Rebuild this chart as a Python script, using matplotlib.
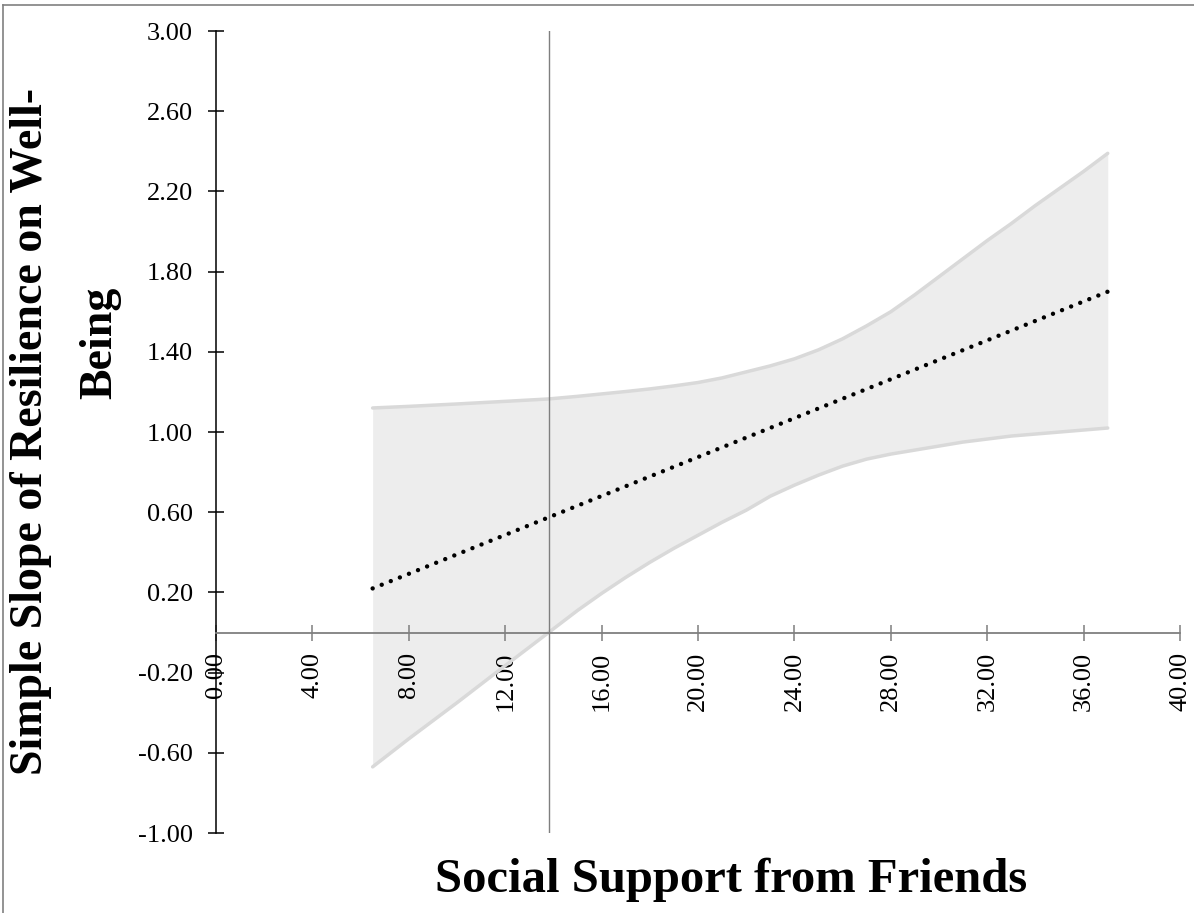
import matplotlib
matplotlib.use("Agg")
import matplotlib.pyplot as plt
from matplotlib.lines import Line2D

# Moderator values (social support from friends) and confidence band of the simple slope
band_x = [6.5, 8, 10, 12, 13.8, 15, 16, 17, 18, 19, 20, 21, 22, 23, 24, 25, 26,
          27, 28, 29, 30, 31, 32, 33, 34, 35, 36, 37]
band_upper = [1.12, 1.128, 1.14, 1.153, 1.165, 1.178, 1.19, 1.202, 1.215, 1.23,
              1.247, 1.27, 1.30, 1.33, 1.365, 1.41, 1.465, 1.53, 1.60, 1.685,
              1.775, 1.865, 1.955, 2.04, 2.13, 2.215, 2.30, 2.39]
band_lower = [-0.67, -0.53, -0.35, -0.165, 0.0, 0.11, 0.195, 0.275, 0.35, 0.42,
              0.485, 0.55, 0.61, 0.68, 0.735, 0.785, 0.83, 0.865, 0.89, 0.91,
              0.93, 0.95, 0.965, 0.98, 0.99, 1.00, 1.01, 1.02]

# Simple slope estimate across the moderator range
slope_x = [6.5, 37.0]
slope_y = [0.22, 1.70]

# Region-of-significance boundary
boundary_x = 13.8

x_ticks = [0, 4, 8, 12, 16, 20, 24, 28, 32, 36, 40]
x_tick_labels = ["0.00", "4.00", "8.00", "12.00", "16.00", "20.00",
                 "24.00", "28.00", "32.00", "36.00", "40.00"]
y_ticks = [-1.0, -0.6, -0.2, 0.2, 0.6, 1.0, 1.4, 1.8, 2.2, 2.6, 3.0]
y_tick_labels = ["-1.00", "-0.60", "-0.20", "0.20", "0.60", "1.00",
                 "1.40", "1.80", "2.20", "2.60", "3.00"]

plt.rcParams["font.family"] = ["Liberation Serif", "DejaVu Serif"]

fig = plt.figure(figsize=(11.94, 9.13), dpi=100)
ax = fig.add_axes([0.1809, 0.0876, 0.8074, 0.8784])
ax.set_xlim(0, 40)
ax.set_ylim(-1, 3)

band_edge = "#d9d9d9"
ax.fill_between(band_x, band_lower, band_upper, color="#ededed", lw=0, zorder=1)
ax.plot(band_x, band_upper, color=band_edge, lw=2.5, solid_capstyle="round",
        solid_joinstyle="round", zorder=2)
ax.plot(band_x, band_lower, color=band_edge, lw=2.5, solid_capstyle="round",
        solid_joinstyle="round", zorder=2)

ax.axvline(boundary_x, color="#7f7f7f", lw=1.0, zorder=3)

ax.plot(slope_x, slope_y, color="black", lw=3.2,
        linestyle=(0, (0.001, 2.2)), dash_capstyle="round", zorder=4)

# Axes crossing at the origin
for side in ("top", "right"):
    ax.spines[side].set_visible(False)
ax.spines["left"].set_position(("data", 0))
ax.spines["left"].set_color("black")
ax.spines["left"].set_linewidth(1.1)
ax.spines["bottom"].set_position(("data", 0))
ax.spines["bottom"].set_color("#7f7f7f")
ax.spines["bottom"].set_linewidth(1.3)

ax.set_xticks(x_ticks)
ax.set_xticklabels(x_tick_labels, rotation=90, fontsize=19)
ax.set_yticks(y_ticks)
ax.set_yticklabels(y_tick_labels, fontsize=19)
ax.tick_params(axis="x", direction="inout", length=11.5, width=1.1,
               color="#7f7f7f", pad=8)
ax.tick_params(axis="y", direction="inout", length=11.5, width=1.1,
               color="black", pad=11)
for lbl in ax.get_xticklabels():
    lbl.set_verticalalignment("top")

fig.text(0.612, 0.036, "Social Support from Friends", fontsize=35,
         fontweight="bold", ha="center", va="center")
fig.text(0.026, 0.527, "Simple Slope of Resilience on Well-", fontsize=33,
         fontweight="bold", rotation=90, ha="center", va="center")
fig.text(0.084, 0.624, "Being", fontsize=33,
         fontweight="bold", rotation=90, ha="center", va="center")

# Page frame around the figure
fig.add_artist(Line2D([0.0025, 0.0025], [0.0, 0.9945], transform=fig.transFigure,
                      color="#808080", lw=1.2))
fig.add_artist(Line2D([0.0025, 1.0], [0.9945, 0.9945], transform=fig.transFigure,
                      color="#808080", lw=1.2))

fig.savefig("out.png", dpi=100)
